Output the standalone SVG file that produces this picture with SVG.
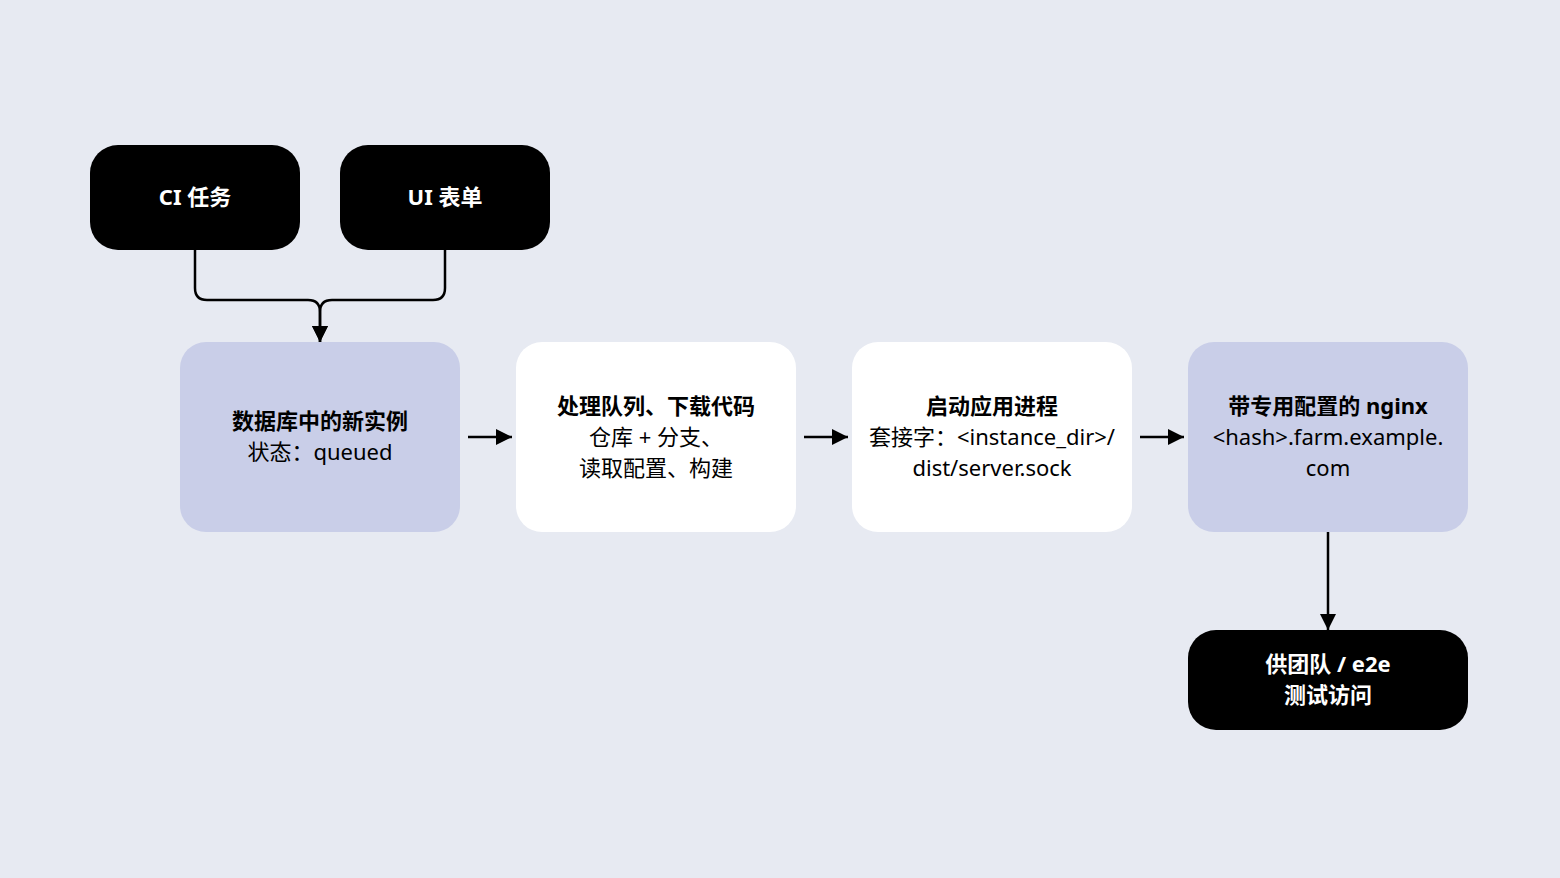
<svg xmlns="http://www.w3.org/2000/svg" width="1560" height="878" viewBox="0 0 1560 878">
<style>
text{font-family:"Noto Sans","Noto Sans CJK SC",sans-serif;font-size:22px;text-anchor:middle;fill:#000}
.b{font-weight:bold}
.w{fill:#fff;font-weight:bold}
.dark{fill:#000}
.lav{fill:#c9cee8}
.wh{fill:#fff}
.c{fill:none;stroke:#000;stroke-width:2.5}
</style>
<defs><marker id="a" viewBox="0 0 10 10" refX="9" refY="5" markerWidth="6" markerHeight="6" markerUnits="userSpaceOnUse" orient="auto"><path d="M0,0L10,5L0,10z" fill="#000"/></marker>
<marker id="m" viewBox="0 0 10 10" refX="10" refY="5" markerWidth="16" markerHeight="16" markerUnits="userSpaceOnUse" orient="auto"><path d="M0,0L10,5L0,10z" fill="#000"/></marker></defs>
<rect width="1560" height="878" fill="#e7eaf2"/>
<g id="ci"><rect class="dark" x="90" y="145" width="210" height="105" rx="28"/><text class="w" x="195" y="205">CI 任务</text></g>
<g id="ui"><rect class="dark" x="340" y="145" width="210" height="105" rx="28"/><text class="w" x="445" y="205">UI 表单</text></g>
<g id="db"><rect class="lav" x="180" y="342" width="280" height="190" rx="26"/><text class="b" x="320" y="429">数据库中的新实例</text><text x="320" y="460">状态：queued</text></g>
<g id="proc"><rect class="wh" x="516" y="342" width="280" height="190" rx="26"/><text class="b" x="656" y="414">处理队列、下载代码</text><text x="656" y="445">仓库 + 分支、</text><text x="656" y="476">读取配置、构建</text></g>
<g id="start"><rect class="wh" x="852" y="342" width="280" height="190" rx="26"/><text class="b" x="992" y="414">启动应用进程</text><text x="992" y="445">套接字：&lt;instance_dir&gt;/</text><text x="992" y="476">dist/server.sock</text></g>
<g id="nginx"><rect class="lav" x="1188" y="342" width="280" height="190" rx="26"/><text class="b" x="1328" y="414">带专用配置的 nginx</text><text x="1328" y="445">&lt;hash&gt;.farm.example.</text><text x="1328" y="476">com</text></g>
<g id="team"><rect class="dark" x="1188" y="630" width="280" height="100" rx="28"/><text class="w" x="1328" y="672">供团队 / e2e</text><text class="w" x="1328" y="703">测试访问</text></g>
<g id="connectors">
<path class="c" d="M195,250V288Q195,300 207,300H308Q320,300 320,312V342" marker-end="url(#m)"/>
<path class="c" d="M445,250V288Q445,300 433,300H332Q320,300 320,312V342" marker-end="url(#m)"/>
<path class="c" d="M468,437H512" marker-end="url(#m)"/>
<path class="c" d="M804,437H848" marker-end="url(#m)"/>
<path class="c" d="M1140,437H1184" marker-end="url(#m)"/>
<path class="c" d="M1328,532V630" marker-end="url(#m)"/>
</g>
</svg>
